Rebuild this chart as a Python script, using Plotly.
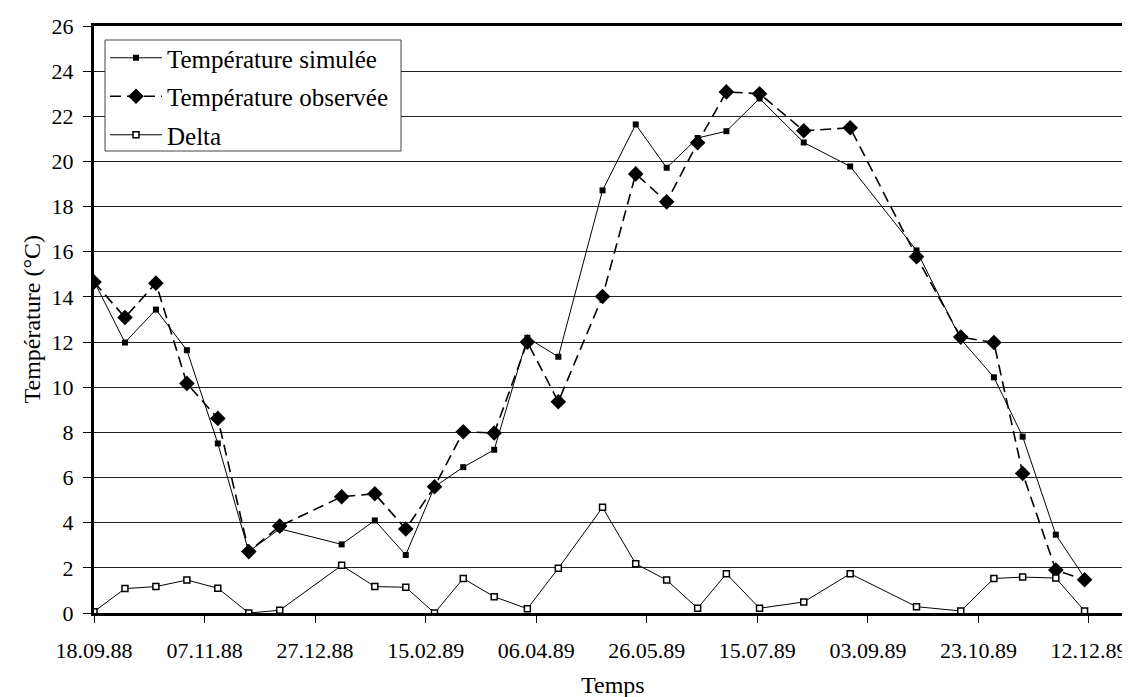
import plotly.graph_objects as go

dates = ["1988-09-18", "1988-10-02", "1988-10-16", "1988-10-30", "1988-11-13", "1988-11-27",
         "1988-12-11", "1989-01-08", "1989-01-23", "1989-02-06", "1989-02-19", "1989-03-04",
         "1989-03-18", "1989-04-02", "1989-04-16", "1989-05-06", "1989-05-21", "1989-06-04",
         "1989-06-18", "1989-07-01", "1989-07-16", "1989-08-05", "1989-08-26", "1989-09-25",
         "1989-10-15", "1989-10-30", "1989-11-12", "1989-11-27", "1989-12-10"]

temp_simulee = [14.7, 11.98, 13.44, 11.64, 7.51, 2.72, 3.73, 3.04, 4.1, 2.57, 5.59, 6.46, 7.23,
                12.19, 11.35, 18.72, 21.64, 19.72, 21.04, 21.34, 22.79, 20.84, 19.78, 16.06,
                12.13, 10.44, 7.81, 3.47, 1.56]
temp_observee = [14.66, 13.09, 14.61, 10.17, 8.62, 2.72, 3.85, 5.15, 5.28, 3.72, 5.59, 8.03, 7.97,
                 12.0, 9.36, 14.02, 19.45, 18.21, 20.83, 23.08, 23.0, 21.36, 21.49, 15.78,
                 12.22, 11.98, 6.18, 1.9, 1.47]
delta = [0.06, 1.08, 1.17, 1.46, 1.1, 0.0, 0.12, 2.11, 1.17, 1.14, 0.0, 1.53, 0.72, 0.19, 1.98,
         4.68, 2.18, 1.46, 0.21, 1.74, 0.21, 0.49, 1.74, 0.28, 0.09, 1.53, 1.59, 1.55, 0.09]

tick_dates = ["1988-09-18", "1988-11-07", "1988-12-27", "1989-02-15", "1989-04-06",
              "1989-05-26", "1989-07-15", "1989-09-03", "1989-10-23", "1989-12-12"]
tick_labels = ["18.09.88", "07.11.88", "27.12.88", "15.02.89", "06.04.89",
               "26.05.89", "15.07.89", "03.09.89", "23.10.89", "12.12.89"]
y_ticks = list(range(0, 27, 2))

FONT = "'Liberation Serif', 'Times New Roman', 'DejaVu Serif', serif"

# plot area in pixels: x 86..1123, y 18..605
W, H = 1130, 697
L, R, T, B = 86, 7, 18, 92
PW, PH = W - L - R, H - T - B


def px_x(x):
    return (x - L) / PW


def px_y(y):
    return (H - B - y) / PH


fig = go.Figure()
fig.add_trace(go.Scatter(
    x=dates, y=temp_simulee, name="Température simulée", mode="lines+markers",
    line=dict(color="black", width=1),
    marker=dict(symbol="square", size=6, color="black"),
    legendgroup="a"))
fig.add_trace(go.Scatter(
    x=dates, y=temp_observee, name="Température observée", mode="lines+markers",
    line=dict(color="black", width=1.6, dash="11px,6px"),
    marker=dict(symbol="diamond", size=12, color="black"),
    legendgroup="b"))
fig.add_trace(go.Scatter(
    x=dates, y=delta, name="Delta", mode="lines+markers",
    line=dict(color="black", width=1),
    marker=dict(symbol="square", size=6, color="white", line=dict(color="black", width=1.5)),
    legendgroup="c"))

fig.update_layout(
    width=W, height=H,
    margin=dict(l=L, r=R, t=T, b=B),
    paper_bgcolor="white", plot_bgcolor="white",
    font=dict(family=FONT, size=22, color="black"),
    showlegend=True,
    legend=dict(
        x=px_x(97), y=px_y(27), xanchor="left", yanchor="top",
        bgcolor="rgba(0,0,0,0)", borderwidth=0,
        font=dict(family=FONT, size=25, color="black"),
        itemwidth=52, tracegroupgap=3,
    ),
    xaxis=dict(
        type="date", automargin=False,
        range=["1988-09-18", "1989-12-31"],
        tickmode="array", tickvals=tick_dates, ticktext=tick_labels,
        ticks="outside", ticklen=7, tickwidth=1, tickcolor="black",
        showline=True, linewidth=3, linecolor="black", mirror=True,
        showgrid=False, zeroline=False,
        ticklabelstandoff=9,
        tickfont=dict(family=FONT, size=22),
    ),
    yaxis=dict(
        automargin=False,
        range=[0, 26],
        tickmode="array", tickvals=y_ticks,
        ticks="outside", ticklen=8, tickwidth=1, tickcolor="black",
        showline=True, linewidth=3, linecolor="black", mirror=True,
        showgrid=True, gridcolor="#222", gridwidth=1, zeroline=False,
        ticklabelstandoff=5,
        tickfont=dict(family=FONT, size=22),
    ),
    shapes=[
        dict(type="rect", xref="paper", yref="paper",
             x0=px_x(97), x1=px_x(393), y0=px_y(143), y1=px_y(32),
             fillcolor="white", line=dict(color="#444", width=1), layer="above"),
    ],
    annotations=[
        dict(text="Temps", xref="paper", yref="paper", x=0.5, y=px_y(677),
             xanchor="center", yanchor="middle", showarrow=False,
             font=dict(family=FONT, size=24, color="black")),
        dict(text="Température (°C)", xref="paper", yref="paper", x=px_x(23), y=0.5,
             xanchor="center", yanchor="middle", textangle=-90, showarrow=False,
             font=dict(family=FONT, size=24, color="black")),
    ],
)

fig.write_html("out.html")
